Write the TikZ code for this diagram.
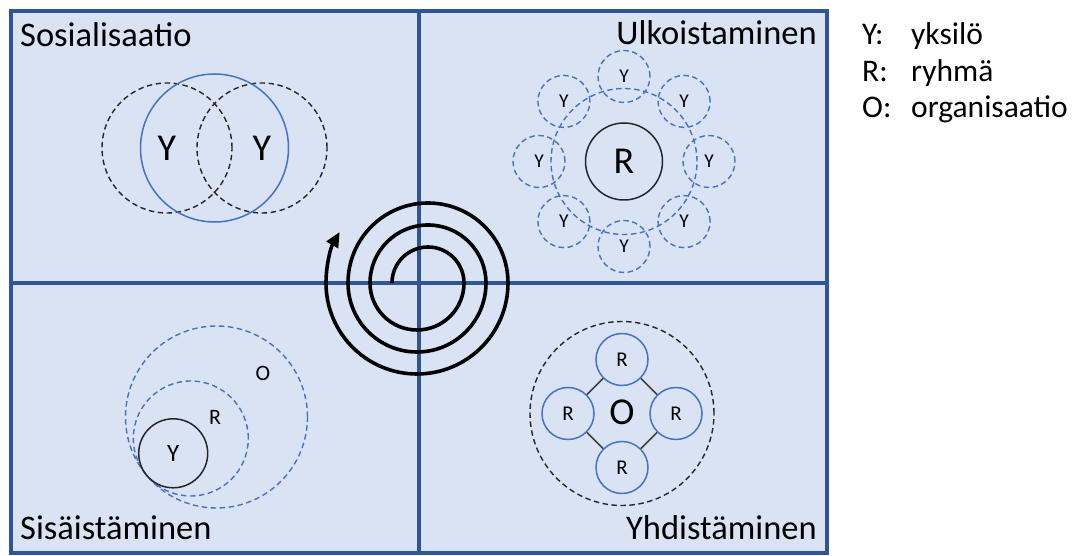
\documentclass[tikz,border=0pt]{standalone}
\usepackage{fontspec}
\setmainfont{Carlito}
\usetikzlibrary{arrows.meta}
\definecolor{frameblue}{RGB}{47,85,151}
\definecolor{paneblue}{RGB}{218,227,243}
\definecolor{ringblue}{RGB}{68,114,196}
\begin{document}
\begin{tikzpicture}[x=1pt,y=1pt,
  frameline/.style={draw=frameblue, line width=4pt},
  title/.style={font=\fontsize{34.5}{40}\selectfont, inner sep=0pt},
  legendtext/.style={font=\fontsize{31.5}{37}\selectfont, inner sep=0pt, anchor=base west},
  bigtext/.style={font=\fontsize{38}{44}\selectfont},
  smalltext/.style={font=\fontsize{19.5}{23}\selectfont},
  circ/.style={circle, inner sep=0pt, minimum size=#1},
  dashblack/.style={draw=black!85, dash pattern=on 5.5pt off 3.5pt, line width=1.4pt},
  dashblue/.style={draw=ringblue, dash pattern=on 5.5pt off 3.5pt, line width=1.4pt},
  solidblue/.style={draw=ringblue, line width=1.5pt},
  solidblack/.style={draw=black!85, line width=1.5pt},
  linkline/.style={draw=black!75, line width=1.5pt},
  spiralline/.style={draw=black, line width=3.6pt}
]
% canvas
\fill[white] (0,0) rectangle (1074,556);
\useasboundingbox (0,0) rectangle (1074,556);

% four panes
\fill[paneblue] (11,3) rectangle (827,545);
\draw[frameline] (419,3) -- (419,545);
\draw[frameline] (11,273) -- (827,273);
\draw[frameline] (11,3) rectangle (827,545);

% pane titles
\node[title, anchor=base west] (tsos) at (20,509) {Sosialisaatio};
\node[title, anchor=base east] (tulk) at (817,511) {Ulkoistaminen};
\node[title, anchor=base west] (tsis) at (20,16) {Sisäistäminen};
\node[title, anchor=base east] (tyhd) at (817,16) {Yhdistäminen};

% Sosialisaatio: two individuals sharing
\node[circ=130pt, dashblack, bigtext] (ya) at (167,408) {Y};
\node[circ=130pt, dashblack, bigtext] (yb) at (262,408) {Y};
\node[circ=148pt, solidblue] (share) at (214.5,408) {};

% Ulkoistaminen: group surrounded by individuals
\node[circ=77pt, solidblack, bigtext] (grp) at (624,394.5) {R};
\node[circ=146pt, dashblue] (ring) at (624,394.5) {};
\foreach \a in {0,45,...,315}
  \path (grp.center) ++(\a:85) node[circ=52pt, dashblue, smalltext] (y\a) {Y};

% Sisaistaminen: nested individual, group, organisation
\node[circ=182pt, dashblue] (orgc) at (216.5,139) {};
\node[circ=115pt, dashblue] (grpc) at (190.8,117.5) {};
\node[circ=69pt, solidblack, font=\fontsize{25}{30}\selectfont] (indc) at (173.2,102.7) {Y};
\node[font=\fontsize{22}{26}\selectfont] (olab) at (263,183) {O};
\node[font=\fontsize{22}{26}\selectfont] (rlab) at (215,139) {R};

% Yhdistaminen: groups linked into an organisation
\node[circ=184pt, dashblack] (org) at (622,142.5) {};
\node[bigtext] (olbl) at (622,144) {O};
\node[circ=52pt, solidblue, fill=paneblue, font=\fontsize{21}{25}\selectfont] (rt) at (622,196.5) {R};
\node[circ=52pt, solidblue, fill=paneblue, font=\fontsize{21}{25}\selectfont] (rr) at (676,142.5) {R};
\node[circ=52pt, solidblue, fill=paneblue, font=\fontsize{21}{25}\selectfont] (rb) at (622,88.5) {R};
\node[circ=52pt, solidblue, fill=paneblue, font=\fontsize{21}{25}\selectfont] (rl) at (568,142.5) {R};
\draw[linkline] (rt) -- (rr);
\draw[linkline] (rr) -- (rb);
\draw[linkline] (rb) -- (rl);
\draw[linkline] (rl) -- (rt);

% knowledge spiral
\coordinate (spstart) at (392,273);
\draw[spiralline, -{Triangle[length=15pt,width=13pt]}] (spstart)
  arc[start angle=180, end angle=0, radius=36]
  arc[start angle=0, end angle=-180, radius=47]
  arc[start angle=180, end angle=0, radius=58]
  arc[start angle=0, end angle=-180, radius=69]
  arc[start angle=180, end angle=0, radius=80]
  arc[start angle=0, end angle=-180, radius=91]
  arc[start angle=180, end angle=150, radius=102];

% legend
\node[legendtext] (ky) at (862,511) {Y:};
\node[legendtext] (vy) at (911,511) {yksilö};
\node[legendtext] (kr) at (862,474) {R:};
\node[legendtext] (vr) at (911,474) {ryhmä};
\node[legendtext] (ko) at (862,438) {O:};
\node[legendtext] (vo) at (911,438) {organisaatio};
\end{tikzpicture}
\end{document}
